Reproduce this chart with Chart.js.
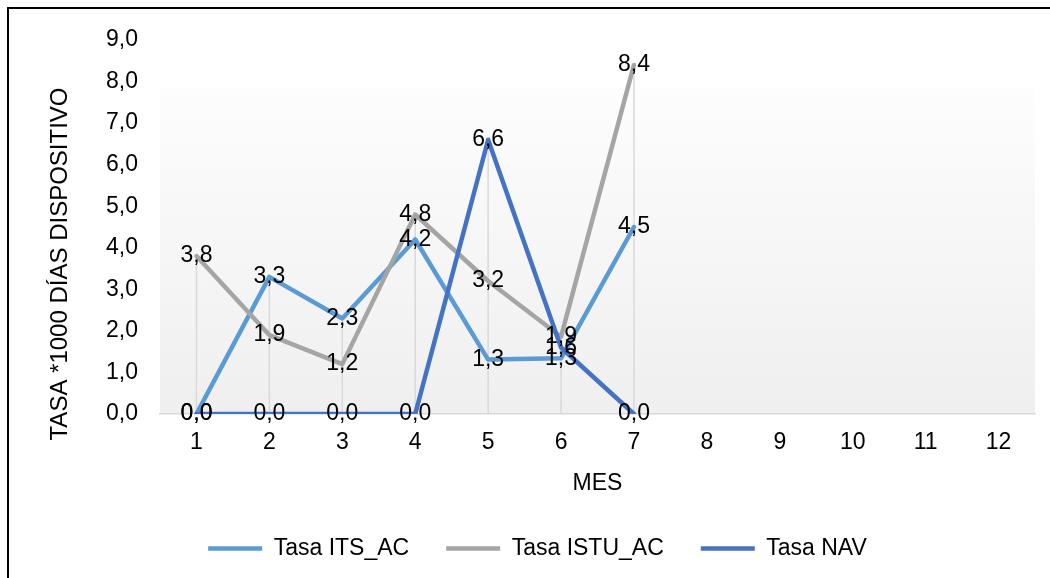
<!DOCTYPE html>
<html lang="es">
<head>
<meta charset="utf-8">
<title>Tasa por mes</title>
<script src="https://cdn.jsdelivr.net/npm/chart.js@4.4.1/dist/chart.umd.min.js"></script>
<style>
  body { margin: 0; background: #fff; }
  .wrap { position: relative; width: 1050px; height: 578px; overflow: hidden; }
  .marco { position: absolute; left: 7px; top: 7px; width: 1100px; height: 700px;
           border-left: 2px solid #000; border-top: 2px solid #000; pointer-events: none; }
</style>
</head>
<body>
<div class="wrap">
  <canvas id="chart" width="1050" height="578"></canvas>
  <div class="marco"></div>
</div>
<script>
// datos
const meses = ['1', '2', '3', '4', '5', '6', '7', '8', '9', '10', '11', '12'];
const tasaITS = [0, 3.3, 2.3, 4.2, 1.31, 1.34, 4.5, null, null, null, null, null];
const tasaISTU = [3.8, 1.9, 1.2, 4.8, 3.2, 1.86, 8.4, null, null, null, null, null];
const tasaNAV = [0, 0, 0, 0, 6.6, 1.6, 0, null, null, null, null, null];

const fmt = v => Number(v).toFixed(1).replace('.', ',');
const FUENTE = '"Liberation Sans", Arial, sans-serif';
Chart.defaults.font.family = FUENTE;
Chart.defaults.color = '#000';

// fondo degradado del area de trazado
const fondoPlot = {
    id: 'fondoPlot',
    beforeDraw(chart) {
        const { ctx, chartArea: a } = chart;
        const top = a.top + 47;
        const g = ctx.createLinearGradient(0, top, 0, a.bottom);
        g.addColorStop(0, '#fdfdfd');
        g.addColorStop(1, '#efefef');
        ctx.save();
        ctx.fillStyle = g;
        ctx.fillRect(a.left, top, a.right - a.left, a.bottom - top);
        ctx.restore();
    }
};

// lineas de caida (del punto mas alto al eje)
const lineasCaida = {
    id: 'lineasCaida',
    beforeDatasetsDraw(chart) {
        const { ctx, scales: { x, y } } = chart;
        ctx.save();
        ctx.strokeStyle = '#d9d9d9';
        ctx.lineWidth = 1.5;
        meses.forEach((m, i) => {
            const vals = [tasaITS[i], tasaISTU[i], tasaNAV[i]].filter(v => v != null);
            if (!vals.length) return;
            const px = x.getPixelForValue(i);
            ctx.beginPath();
            ctx.moveTo(px, y.getPixelForValue(Math.max(...vals)));
            ctx.lineTo(px, y.getPixelForValue(0));
            ctx.stroke();
        });
        ctx.restore();
    }
};

// etiquetas de datos centradas en cada punto
const etiquetas = {
    id: 'etiquetas',
    afterDatasetsDraw(chart) {
        const { ctx } = chart;
        ctx.save();
        ctx.font = '23px ' + FUENTE;
        ctx.fillStyle = '#000';
        ctx.textAlign = 'center';
        ctx.textBaseline = 'middle';
        chart.data.datasets.forEach((ds, di) => {
            chart.getDatasetMeta(di).data.forEach((pt, i) => {
                const v = ds.data[i];
                if (v == null) return;
                ctx.fillText(fmt(v), pt.x, pt.y);
            });
        });
        ctx.restore();
    }
};

// titulo del eje vertical
const tituloY = {
    id: 'tituloY',
    afterDraw(chart) {
        const { ctx, chartArea: a } = chart;
        ctx.save();
        ctx.translate(60, a.bottom - 150);
        ctx.rotate(-Math.PI / 2);
        ctx.font = '24px ' + FUENTE;
        ctx.fillStyle = '#000';
        ctx.textAlign = 'center';
        ctx.textBaseline = 'middle';
        ctx.fillText('TASA *1000 DÍAS DISPOSITIVO', 0, 0);
        ctx.restore();
    }
};

const serie = (label, data, color, order) => ({
    label,
    data,
    borderColor: color,
    backgroundColor: color,
    borderWidth: 4.5,
    borderCapStyle: 'round',
    borderJoinStyle: 'round',
    pointRadius: 0,
    tension: 0,
    order,
});

new Chart(document.getElementById('chart'), {
    type: 'line',
    data: {
        labels: meses,
        datasets: [
            serie('Tasa ITS_AC', tasaITS, '#5b9bd5', 3),
            serie('Tasa ISTU_AC', tasaISTU, '#a5a5a5', 2),
            serie('Tasa NAV', tasaNAV, '#4472c4', 1),
        ]
    },
    options: {
        responsive: false,
        animation: false,
        layout: { padding: { top: 40, right: 15, bottom: 8, left: 40 } },
        plugins: {
            legend: {
                position: 'bottom',
                labels: {
                    usePointStyle: true,
                    pointStyle: 'line',
                    pointStyleWidth: 54,
                    padding: 37,
                    color: '#000',
                    font: { size: 23 },
                    sort: (a, b) => a.datasetIndex - b.datasetIndex,
                }
            },
            tooltip: { enabled: false },
        },
        scales: {
            x: {
                offset: true,
                grid: { display: false, drawTicks: false, offset: true },
                border: { display: true, color: '#d9d9d9', width: 1.5 },
                ticks: { color: '#000', font: { size: 23 }, padding: 15, maxRotation: 0, autoSkip: false },
                title: { display: true, text: 'MES', color: '#000', font: { size: 23 }, padding: { top: 0, bottom: 3 } },
                afterFit: s => { s.height = 86; },
            },
            y: {
                min: 0,
                max: 9,
                grid: { display: false, drawTicks: false },
                border: { display: false },
                ticks: { stepSize: 1, color: '#000', font: { size: 23 }, padding: 22, callback: v => fmt(v) },
                afterFit: s => { s.width = 120; },
            }
        }
    },
    plugins: [fondoPlot, lineasCaida, etiquetas, tituloY]
});
</script>
</body>
</html>
